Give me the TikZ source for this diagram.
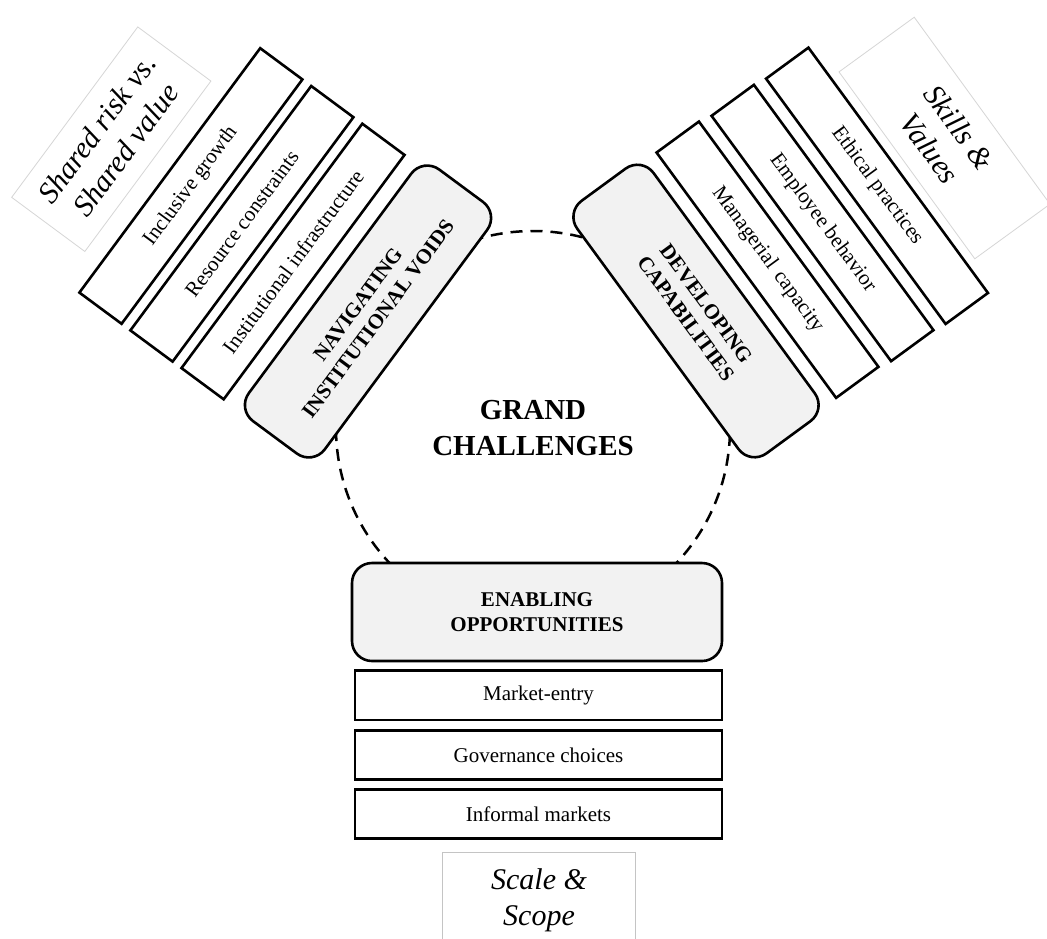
\documentclass[tikz,border=0pt]{standalone}
\usepackage{fontspec}
\setmainfont{Liberation Serif}
\definecolor{gfill}{HTML}{F2F2F2}
\definecolor{lgray}{HTML}{C4C4C4}
\definecolor{llgray}{HTML}{D6D6D6}
\begin{document}
\begin{tikzpicture}[x=0.5pt,y=-0.5pt,
  wbox/.style={draw=black, line width=1.3pt, fill=white, minimum width=152pt, minimum height=26.25pt, inner sep=0pt, font=\fontsize{10.6}{12.8}\selectfont},
  hbox/.style={draw=black, line width=1.3pt, fill=white, minimum width=183.5pt, minimum height=24.7pt, inner sep=0pt, font=\fontsize{10.5}{12.6}\selectfont},
  gbox/.style={draw=black, line width=1.3pt, fill=gfill, rounded corners=10pt, minimum width=156.5pt, minimum height=47.25pt, inner sep=0pt, align=center, font=\bfseries\fontsize{10.5}{12.5}\selectfont},
  lbox/.style={draw=llgray, line width=0.4pt, fill=white, inner sep=0pt, align=center, font=\itshape\fontsize{15}{18}\selectfont},
  gcircle/.style={circle, draw=black, line width=1.25pt, dash pattern=on 6pt off 4pt, minimum size=197pt, inner sep=0pt, align=center, font=\bfseries\fontsize{14.5}{18}\selectfont}
]
\useasboundingbox (0,0) rectangle (1047,938);
\clip (0,0) rectangle (1047,938);
\fill[white] (0,0) rectangle (1047,938);

% central dashed circle
\node[gcircle] (gc) at (533,428) {GRAND\\CHALLENGES};

% left group
\node[lbox, rotate=53.5, minimum width=106pt, minimum height=45.5pt] (lab1) at (111.3,139.2) {Shared risk vs.\\Shared value};
\node[wbox, rotate=53.5] (w1) at (190.9,186) {Inclusive growth};
\node[wbox, rotate=53.5] (w2) at (241.9,223.8) {Resource constraints};
\node[wbox, rotate=53.5] (w3) at (293,261.5) {Institutional infrastructure};
\node[gbox, rotate=53.5] (g1) at (368,311.5) {NAVIGATING\\INSTITUTIONAL VOIDS};

% right group
\node[lbox, rotate=-54, minimum width=115.5pt, minimum height=46.5pt] (lab2) at (944.5,138) {Skills \&\\Values};
\node[wbox, rotate=-53.8] (w6) at (877,185.8) {Ethical practices};
\node[wbox, rotate=-53.8] (w5) at (822.5,223) {Employee behavior};
\node[wbox, rotate=-53.8] (w4) at (767.5,259.7) {Managerial\hspace{0.12em} capacity};
\node[gbox, rotate=-53.8] (g2) at (696,311) {DEVELOPING\\CAPABILITIES};

% bottom group
\node[gbox, minimum width=185pt, minimum height=49pt] (g3) at (537,612) {ENABLING\\OPPORTUNITIES};
\node[hbox] (w7) at (538.5,695.3) {Market-entry};
\node[hbox] (w8) at (538.5,755) {Governance choices};
\node[hbox] (w9) at (538.5,814) {Informal markets};
\node[lbox, draw=lgray, minimum width=96.3pt, minimum height=48pt] (lab3) at (539,900.5) {Scale \&\\Scope};
\end{tikzpicture}
\end{document}
